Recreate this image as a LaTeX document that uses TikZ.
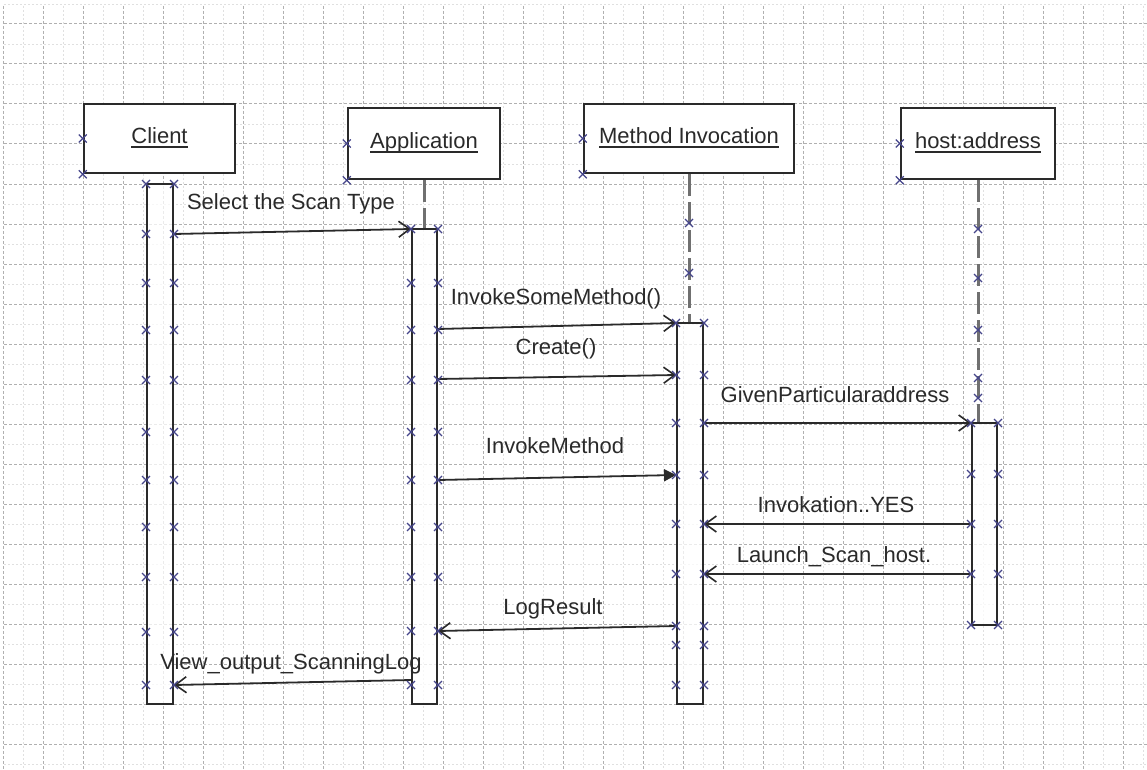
\documentclass[tikz,border=0pt]{standalone}
\usepackage{fontspec}
\setmainfont{Liberation Sans}
\usetikzlibrary{arrows.meta}
\definecolor{ink}{HTML}{2A2A2A}
\definecolor{xblue}{HTML}{45458A}
\definecolor{gridmaj}{HTML}{B0B0B0}
\definecolor{gridmin}{HTML}{E0E0E0}
\definecolor{lifegray}{HTML}{707070}
% underline drawn as a heavier rule under the object names
\newcommand\objname[1]{\setbox0\hbox{#1}\rlap{\rule[-4pt]{\wd0}{1.6pt}}\box0}
\begin{document}
\begin{tikzpicture}[x=1pt,y=-1pt,
  every node/.style={font=\fontsize{22}{26}\selectfont},
  gmajor/.style={draw=gridmaj, line width=1pt, dash pattern=on 3pt off 2pt},
  gminor/.style={draw=gridmin, line width=0.8pt, dash pattern=on 2pt off 2pt},
  objbox/.style={draw=ink, line width=2.5pt, fill=white, rectangle, inner sep=0pt,
                 text height=16pt, text depth=5pt, text=ink},
  actbar/.style={draw=ink, line width=2pt, fill=white, fill opacity=0.75, rectangle, inner sep=0pt},
  lifeline/.style={draw=lifegray, line width=3pt, dash pattern=on 22pt off 6pt},
  msg/.style={draw=ink, line width=1.8pt, -{Straight Barb[length=11pt,width=16pt,line width=1.6pt]}},
  msgfill/.style={draw=ink, line width=1.8pt, -{Triangle[length=12pt,width=12pt]}},
  lbl/.style={text=ink, inner sep=0pt, anchor=base},
  xm/.pic={\draw[xblue, line width=1.1pt] (-4,-4) -- (4,4) (-4,4) -- (4,-4);}
]
\useasboundingbox (0,0) rectangle (1147,770);
\fill[white] (0,0) rectangle (1147,770);

% background grid
\foreach \x in {23,63,...,1143} \draw[gminor] (\x,6) -- (\x,770);
\foreach \y in {4,44,...,764} \draw[gminor] (4,\y) -- (1147,\y);
\foreach \x in {3,43,...,1123} \draw[gmajor] (\x,6) -- (\x,770);
\foreach \y in {24,64,...,744} \draw[gmajor] (4,\y) -- (1147,\y);

% objects
\node[objbox, minimum width=151pt, minimum height=69pt] (client) at (159.5,138.5) {\objname{Client}};
\node[objbox, minimum width=152pt, minimum height=71pt] (app) at (424,143.5) {\objname{Application}};
\node[objbox, minimum width=210pt, minimum height=69pt] (mi) at (689,138.5) {\objname{Method Invocation}};
\node[objbox, minimum width=154pt, minimum height=71pt] (host) at (978,143.5) {\objname{host:address}};

% activation bars
\node[actbar, minimum width=26pt, minimum height=520pt] (cbar) at (160,444) {};
\node[actbar, minimum width=25pt, minimum height=475pt] (abar) at (424.5,466.5) {};
\node[actbar, minimum width=26pt, minimum height=381pt] (mbar) at (690,513.5) {};
\node[actbar, minimum width=25pt, minimum height=202pt] (hbar) at (984.5,524) {};

% lifelines
\draw[lifeline] (app.south) -- (app.south |- abar.north);
\draw[lifeline] (mi.south) -- (mi.south |- mbar.north);
\draw[lifeline] (host.south) -- (host.south |- hbar.north);

% messages
\draw[msg] (cbar.east |- 0,234) -- (abar.west |- 0,229);
\draw[msg] (abar.east |- 0,329) -- (mbar.west |- 0,323);
\draw[msg] (abar.east |- 0,379) -- (mbar.west |- 0,375);
\draw[msgfill] (abar.east |- 0,480) -- (mbar.west |- 0,475);
\draw[msg] (mbar.east |- 0,423) -- (hbar.west |- 0,423);
\draw[msg] (hbar.west |- 0,524) -- (mbar.east |- 0,524);
\draw[msg] (hbar.west |- 0,574) -- (mbar.east |- 0,574);
\draw[msg] (mbar.west |- 0,626) -- (abar.east |- 0,631);
\draw[msg] (abar.west |- 0,680) -- (cbar.east |- 0,685);

% message labels
\node[lbl] (l1) at (291,209) {Select the Scan Type};
\node[lbl] (l2) at (556,304) {InvokeSomeMethod()};
\node[lbl] (l3) at (556,354) {Create()};
\node[lbl] (l4) at (555,453) {InvokeMethod};
\node[lbl] (l5) at (835,402) {GivenParticularaddress};
\node[lbl] (l6) at (836,512) {Invokation..YES};
\node[lbl] (l7) at (834,562) {Launch\_Scan\_host.};
\node[lbl] (l8) at (553,614) {LogResult};
\node[lbl] (l9) at (291,669) {View\_output\_ScanningLog};

% connection point markers
\foreach \y in {184,234,283,330,380,432,480,527,577,632,685} {
  \pic at (cbar.west |- 0,\y) {xm}; \pic at (cbar.east |- 0,\y) {xm};
}
\foreach \y in {229,283,330,380,432,480,527,577,631,685} {
  \pic at (abar.west |- 0,\y) {xm}; \pic at (abar.east |- 0,\y) {xm};
}
\foreach \y in {323,375,423,475,524,574,626,645,685} {
  \pic at (mbar.west |- 0,\y) {xm}; \pic at (mbar.east |- 0,\y) {xm};
}
\foreach \y in {423,474,524,574,625} {
  \pic at (hbar.west |- 0,\y) {xm}; \pic at (hbar.east |- 0,\y) {xm};
}
\foreach \y in {223,273} \pic at (mi.south |- 0,\y) {xm};
\foreach \y in {229,278,330,378,398} \pic at (host.south |- 0,\y) {xm};
\foreach \n in {client,app,mi,host} {
  \pic at (\n.west) {xm}; \pic at (\n.south west) {xm};
}
\end{tikzpicture}
\end{document}
